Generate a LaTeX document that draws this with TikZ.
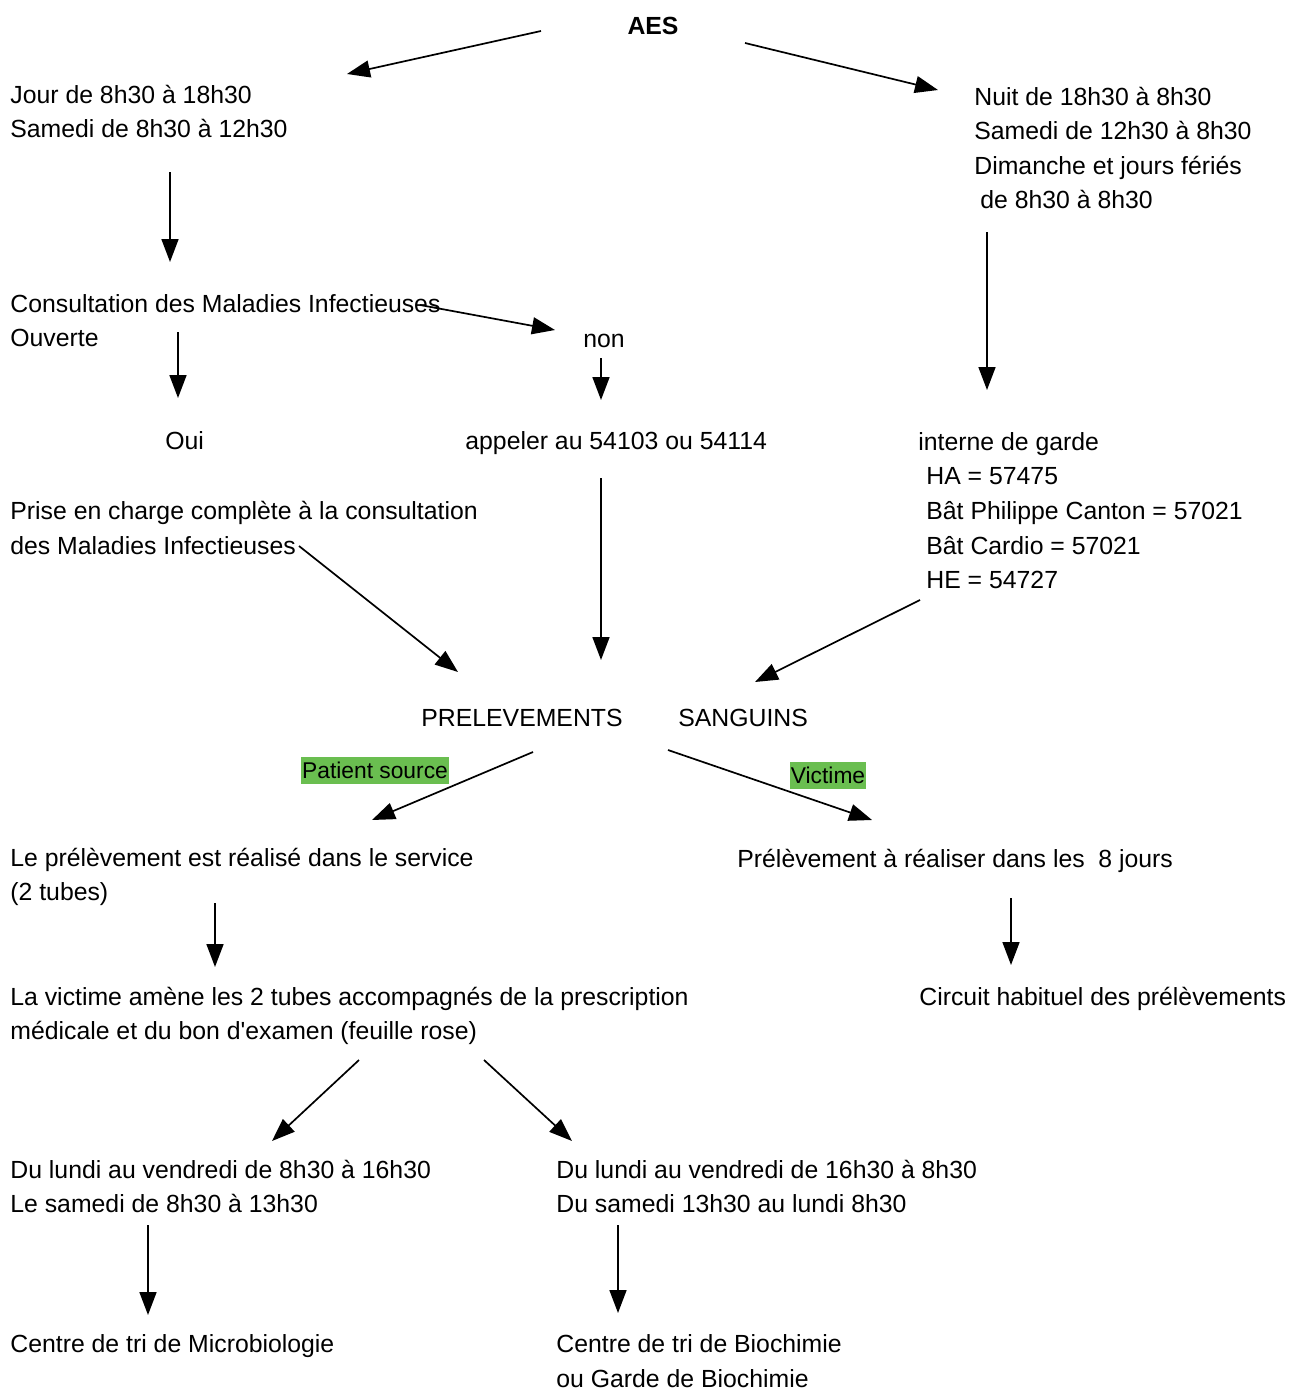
\documentclass[tikz,border=0pt]{standalone}
\usepackage{fontspec}
\setmainfont{Liberation Sans}
\newfontfamily\plainsans{Liberation Sans}
\usetikzlibrary{arrows.meta}
\newcommand{\fsz}{\fontsize{12.4}{15}\selectfont}
\newcommand{\fsm}{\fontsize{11.4}{13}\selectfont}
\definecolor{lblgreen}{RGB}{106,190,80}
\begin{document}
\begin{tikzpicture}[x=0.5pt,y=-0.5pt,
  txt/.style={anchor=base west, inner sep=0pt, font=\fsz},
  tag/.style={fill=lblgreen, inner xsep=0.5pt, inner ysep=0pt, minimum height=13.5pt, font=\fsm},
  arr/.style={-{Triangle[length=11.5pt,width=8.5pt]}, line width=0.85pt}]
\useasboundingbox (0,0) rectangle (1293,1392);
% texts
\node[txt, anchor=base, font=\fsz\bfseries] (aes) at (653,34) {AES};
\node[txt] (jour1) at (10,103) {Jour de 8h30 à 18h30};
\node[txt] (jour2) at (10,137) {Samedi de 8h30 à 12h30};
\node[txt] (nuit1) at (974,105) {Nuit de 18h30 à 8h30};
\node[txt] (nuit2) at (974,139) {Samedi de 12h30 à 8h30};
\node[txt] (nuit3) at (974,174) {Dimanche et jours fériés};
\node[txt] (nuit4) at (980,208) {de 8h30 à 8h30};
\node[txt] (cons1) at (10,312) {Consultation des Maladies Infectieuses};
\node[txt] (cons2) at (10,346) {Ouverte};
\node[txt] (non) at (583,347) {non};
\node[txt] (oui) at (165,449) {Oui};
\node[txt] (appel) at (465,449) {appeler au 54103 ou 54114};
\node[txt] (int1) at (918,450) {interne de garde};
\node[txt] (int2) at (926,484) {HA = 57475};
\node[txt] (int3) at (926,519) {Bât Philippe Canton = 57021};
\node[txt] (int4) at (926,554) {Bât Cardio = 57021};
\node[txt] (int5) at (926,588) {HE = 54727};
\node[txt] (prise1) at (10,519) {Prise en charge complète à la consultation};
\node[txt] (prise2) at (10,554) {des Maladies Infectieuses};
\node[txt] (prel) at (421,726) {PRELEVEMENTS};
\node[txt] (sang) at (678,726) {SANGUINS};
\node[tag] (patsrc) at (375,770.5) {Patient source};
\node[tag] (vict) at (828,775.5) {Victime};
\node[txt] (serv1) at (10,866) {Le prélèvement est réalisé dans le service};
\node[txt] (serv2) at (10,900) {(2 tubes)};
\node[txt] (huit) at (737,867) {Prélèvement à réaliser dans les\ \ 8 jours};
\node[txt] (amene1) at (10,1005) {La victime amène les 2 tubes accompagnés de la prescription};
\node[txt, font=\fsz\plainsans] (amene2) at (10,1039) {médicale et du bon d'examen (feuille rose)};
\node[txt] (circ) at (919,1005) {Circuit habituel des prélèvements};
\node[txt] (lun1) at (10,1178) {Du lundi au vendredi de 8h30 à 16h30};
\node[txt] (lun2) at (10,1212) {Le samedi de 8h30 à 13h30};
\node[txt] (soir1) at (556,1178) {Du lundi au vendredi de 16h30 à 8h30};
\node[txt] (soir2) at (556,1212) {Du samedi 13h30 au lundi 8h30};
\node[txt] (micro) at (10,1352) {Centre de tri de Microbiologie};
\node[txt] (bio1) at (556,1352) {Centre de tri de Biochimie};
\node[txt] (bio2) at (556,1387) {ou Garde de Biochimie};
% arrow end points
\coordinate (a1s) at (541,31);  \coordinate (a1e) at (347,74);
\coordinate (a2s) at (745,43);  \coordinate (a2e) at (938,90);
\coordinate (a3s) at (170,172); \coordinate (a3e) at (170,262);
\coordinate (a4s) at (987,232); \coordinate (a4e) at (987,390);
\coordinate (a5s) at (420,305); \coordinate (a5e) at (555,330);
\coordinate (a6s) at (178,332); \coordinate (a6e) at (178,398);
\coordinate (a7s) at (601,358); \coordinate (a7e) at (601,400);
\coordinate (a8s) at (601,478); \coordinate (a8e) at (601,660);
\coordinate (a9s) at (299,546); \coordinate (a9e) at (458,672);
\coordinate (a10s) at (920,600); \coordinate (a10e) at (755,682);
\coordinate (a11s) at (533,752); \coordinate (a11e) at (372,820);
\coordinate (a12s) at (668,750); \coordinate (a12e) at (872,820);
\coordinate (a13s) at (215,903); \coordinate (a13e) at (215,967);
\coordinate (a14s) at (1011,898); \coordinate (a14e) at (1011,965);
\coordinate (a15s) at (359,1060); \coordinate (a15e) at (272,1141);
\coordinate (a16s) at (484,1060); \coordinate (a16e) at (572,1141);
\coordinate (a17s) at (148,1225); \coordinate (a17e) at (148,1315);
\coordinate (a18s) at (618,1225); \coordinate (a18e) at (618,1313);
\foreach \i in {1,...,18} {\draw[arr] (a\i s) -- (a\i e);}
\end{tikzpicture}
\end{document}
